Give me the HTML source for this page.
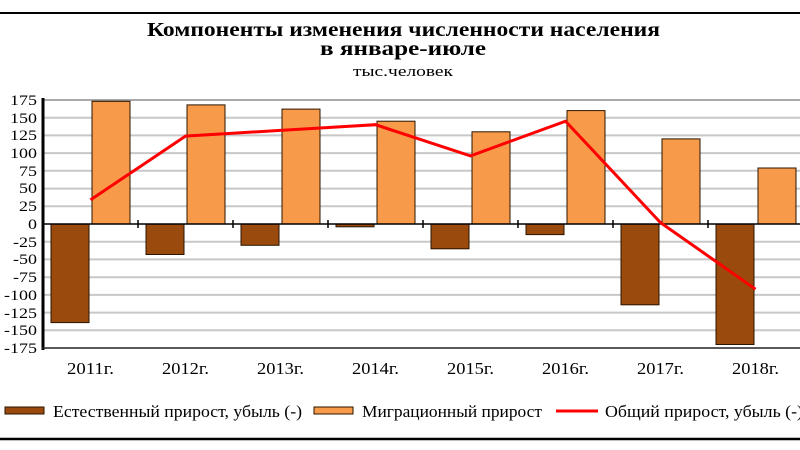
<!DOCTYPE html>
<html><head><meta charset="utf-8"><style>
html,body{margin:0;padding:0;background:#fff;}
svg{display:block;}
text{font-family:"Liberation Serif",serif;}
</style></head><body>
<svg width="800" height="450" viewBox="0 0 800 450" xmlns="http://www.w3.org/2000/svg">
<rect width="800" height="450" fill="#fff"/>
<line x1="0" y1="13" x2="800" y2="13" stroke="#000" stroke-width="2"/>
<text x="147" y="36" font-size="20" font-weight="bold" textLength="513" lengthAdjust="spacingAndGlyphs">Компоненты изменения численности населения</text>
<text x="403" y="55" text-anchor="middle" font-size="20" font-weight="bold" textLength="166" lengthAdjust="spacingAndGlyphs">в январе-июле</text>
<text x="403" y="76" text-anchor="middle" font-size="15" textLength="100" lengthAdjust="spacingAndGlyphs">тыс.человек</text>
<g stroke="#c8c8c8" stroke-width="2">
<line x1="43" x2="800" y1="117.7" y2="117.7"/><line x1="43" x2="800" y1="135.4" y2="135.4"/>
<line x1="43" x2="800" y1="153.1" y2="153.1"/><line x1="43" x2="800" y1="170.8" y2="170.8"/>
<line x1="43" x2="800" y1="188.6" y2="188.6"/><line x1="43" x2="800" y1="206.3" y2="206.3"/>
<line x1="43" x2="800" y1="241.7" y2="241.7"/><line x1="43" x2="800" y1="259.4" y2="259.4"/>
<line x1="43" x2="800" y1="277.2" y2="277.2"/><line x1="43" x2="800" y1="294.9" y2="294.9"/>
<line x1="43" x2="800" y1="312.6" y2="312.6"/><line x1="43" x2="800" y1="330.3" y2="330.3"/>
</g>
<rect x="43" y="100" width="760" height="248" fill="none" stroke="#555" stroke-width="1"/>
<g fill="#9a4a0c" stroke="#2a1500" stroke-width="1">
<rect x="51" y="224" width="38" height="98.6"/>
<rect x="146" y="224" width="38" height="30.5"/>
<rect x="241" y="224" width="38" height="21.3"/>
<rect x="336" y="224" width="38" height="2.8"/>
<rect x="431" y="224" width="38" height="24.8"/>
<rect x="526" y="224" width="38" height="10.6"/>
<rect x="621" y="224" width="38" height="80.8"/>
<rect x="716" y="224" width="38" height="120.5"/>
</g>
<g fill="#f79a4a" stroke="#2a1500" stroke-width="1">
<rect x="92" y="101.3" width="38" height="122.7"/>
<rect x="187" y="104.9" width="38" height="119.1"/>
<rect x="282" y="109.1" width="38" height="114.9"/>
<rect x="377" y="121.2" width="38" height="102.8"/>
<rect x="472" y="131.8" width="38" height="92.2"/>
<rect x="567" y="110.6" width="38" height="113.4"/>
<rect x="662" y="138.9" width="38" height="85.1"/>
<rect x="758" y="168" width="38" height="56"/>
</g>
<line x1="43" y1="224" x2="803" y2="224" stroke="#000" stroke-width="1.5"/>
<g stroke="#000" stroke-width="1.5">
<line x1="138" x2="138" y1="220" y2="228"/><line x1="233" x2="233" y1="220" y2="228"/>
<line x1="328" x2="328" y1="220" y2="228"/><line x1="423" x2="423" y1="220" y2="228"/>
<line x1="518" x2="518" y1="220" y2="228"/><line x1="613" x2="613" y1="220" y2="228"/>
<line x1="708" x2="708" y1="220" y2="228"/>
</g>
<line x1="43" y1="98" x2="43" y2="350" stroke="#000" stroke-width="3"/>
<line x1="42" y1="348" x2="803" y2="348" stroke="#222" stroke-width="1.5"/>
<polyline fill="none" stroke="#ff0000" stroke-width="3" points="90.5,199.9 185.5,136.1 280.5,130.4 375.5,124.7 470.5,155.9 565.5,121.2 660.5,222.6 755.5,289.2"/>
<g font-size="15" text-anchor="end" transform="translate(37,0) scale(1.2,1) translate(-37,0)">
<text x="37" y="105">175</text><text x="37" y="123">150</text><text x="37" y="140">125</text>
<text x="37" y="158">100</text><text x="37" y="176">75</text><text x="37" y="193">50</text>
<text x="37" y="211">25</text><text x="37" y="229">0</text><text x="37" y="247">-25</text>
<text x="37" y="264">-50</text><text x="37" y="282">-75</text><text x="37" y="300">-100</text>
<text x="37" y="318">-125</text><text x="37" y="335">-150</text><text x="37" y="353">-175</text>
</g>
<g font-size="17" text-anchor="middle">
<text x="90.5" y="374" textLength="47" lengthAdjust="spacingAndGlyphs">2011г.</text><text x="185.5" y="374" textLength="47" lengthAdjust="spacingAndGlyphs">2012г.</text><text x="280.5" y="374" textLength="47" lengthAdjust="spacingAndGlyphs">2013г.</text>
<text x="375.5" y="374" textLength="47" lengthAdjust="spacingAndGlyphs">2014г.</text><text x="470.5" y="374" textLength="47" lengthAdjust="spacingAndGlyphs">2015г.</text><text x="565.5" y="374" textLength="47" lengthAdjust="spacingAndGlyphs">2016г.</text>
<text x="660.5" y="374" textLength="47" lengthAdjust="spacingAndGlyphs">2017г.</text><text x="755.5" y="374" textLength="47" lengthAdjust="spacingAndGlyphs">2018г.</text>
</g>
<rect x="5" y="407" width="39" height="7" fill="#9a4a0c" stroke="#2a1500" stroke-width="1"/>
<text x="53" y="417" font-size="17" textLength="249" lengthAdjust="spacingAndGlyphs">Естественный прирост, убыль (-)</text>
<rect x="314" y="407" width="39" height="7" fill="#f79a4a" stroke="#2a1500" stroke-width="1"/>
<text x="362" y="417" font-size="17" textLength="180" lengthAdjust="spacingAndGlyphs">Миграционный прирост</text>
<line x1="556" y1="411" x2="598" y2="411" stroke="#ff0000" stroke-width="3"/>
<text x="605" y="417" font-size="17" textLength="198" lengthAdjust="spacingAndGlyphs">Общий прирост, убыль (-)</text>
<line x1="0" y1="439" x2="800" y2="439" stroke="#000" stroke-width="2.5"/>
</svg>
</body></html>
